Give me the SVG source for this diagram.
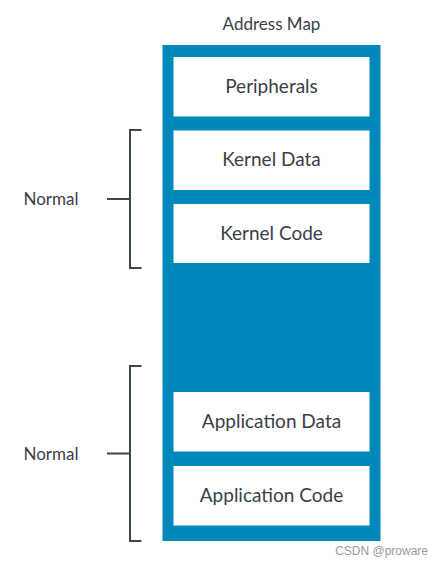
<svg xmlns="http://www.w3.org/2000/svg" width="444" height="567" viewBox="0 0 444 567">
<style>
.t{font-family:Lato,"Noto Sans",sans-serif;fill:#3a4049;text-anchor:middle}
.b{font-size:19px}
.box{fill:#ffffff}
.br{fill:none;stroke:#3e4650;stroke-width:2}
</style>
<rect width="444" height="567" fill="#ffffff"/>
<text class="t" x="271.5" y="30" font-size="17">Address Map</text>
<g id="map">
<rect x="162.5" y="45" width="218" height="496" fill="#0088bb"/>
</g>
<g id="peripherals"><rect class="box" x="173.5" y="57" width="196" height="59.5"/><text class="t b" x="271.5" y="92.5">Peripherals</text></g>
<g id="kernel-data"><rect class="box" x="173.5" y="130.5" width="196" height="59.5"/><text class="t b" x="271.5" y="166">Kernel Data</text></g>
<g id="kernel-code"><rect class="box" x="173.5" y="204" width="196" height="59"/><text class="t b" x="271.5" y="239.5">Kernel Code</text></g>
<g id="app-data"><rect class="box" x="173.5" y="392" width="196" height="59.5"/><text class="t b" x="271.5" y="427.5">Application Data</text></g>
<g id="app-code"><rect class="box" x="173.5" y="466" width="196" height="59.5"/><text class="t b" x="271.5" y="501.5">Application Code</text></g>
<g id="connectors">
<path class="br" d="M141.5 130H130V268H141.5M107 199H130"/>
<path class="br" d="M141.5 366H130V541H141.5M107 453.5H130"/>
</g>
<g id="normal-1"><text class="t" x="51" y="205" font-size="17">Normal</text></g>
<g id="normal-2"><text class="t" x="51" y="459.5" font-size="17">Normal</text></g>
<text x="428" y="555" font-family="'Liberation Sans',Arial,sans-serif" font-size="12" fill="#9a9a9a" text-anchor="end">CSDN @proware</text>
</svg>
